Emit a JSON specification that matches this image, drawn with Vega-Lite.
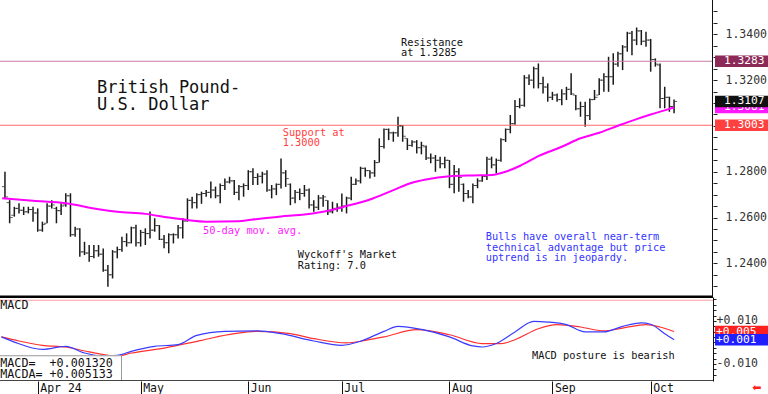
{
 "$schema": "https://vega.github.io/schema/vega-lite/v6.json",
 "padding": 0,
 "background": "white",
 "spacing": 0,
 "bounds": "flush",
 "config": {"view": {"stroke": null}, "axis": {"grid": false}, "text": {"font": "DejaVu Sans Mono"}},
 "datasets": {
  "one": [{"n": 1}],
  "ohlc": [
   {"i":0,"o":1.2735,"h":1.28,"l":1.2684,"c":1.269},
   {"i":1,"o":1.2665,"h":1.2676,"l":1.2575,"c":1.26},
   {"i":2,"o":1.261,"h":1.2647,"l":1.2604,"c":1.264},
   {"i":3,"o":1.264,"h":1.2662,"l":1.2618,"c":1.2632},
   {"i":4,"o":1.2632,"h":1.2647,"l":1.2611,"c":1.2625},
   {"i":5,"o":1.2625,"h":1.2647,"l":1.2618,"c":1.2635},
   {"i":6,"o":1.2635,"h":1.2647,"l":1.2582,"c":1.262},
   {"i":7,"o":1.262,"h":1.264,"l":1.2538,"c":1.2545},
   {"i":8,"o":1.2545,"h":1.2582,"l":1.2538,"c":1.257},
   {"i":9,"o":1.2575,"h":1.2662,"l":1.2575,"c":1.265},
   {"i":10,"o":1.265,"h":1.2676,"l":1.264,"c":1.2655},
   {"i":11,"o":1.264,"h":1.2647,"l":1.2575,"c":1.263},
   {"i":12,"o":1.263,"h":1.2662,"l":1.2611,"c":1.265},
   {"i":13,"o":1.2655,"h":1.2706,"l":1.2647,"c":1.2695},
   {"i":14,"o":1.2695,"h":1.2706,"l":1.2516,"c":1.2525},
   {"i":15,"o":1.2525,"h":1.256,"l":1.2516,"c":1.255},
   {"i":16,"o":1.255,"h":1.2553,"l":1.2429,"c":1.245},
   {"i":17,"o":1.245,"h":1.2494,"l":1.2436,"c":1.2445},
   {"i":18,"o":1.2445,"h":1.248,"l":1.2407,"c":1.243},
   {"i":19,"o":1.243,"h":1.248,"l":1.2422,"c":1.2455},
   {"i":20,"o":1.2455,"h":1.248,"l":1.2429,"c":1.244},
   {"i":21,"o":1.244,"h":1.2465,"l":1.2363,"c":1.237},
   {"i":22,"o":1.237,"h":1.2393,"l":1.2298,"c":1.235},
   {"i":23,"o":1.235,"h":1.2458,"l":1.2334,"c":1.245},
   {"i":24,"o":1.245,"h":1.2473,"l":1.2422,"c":1.246},
   {"i":25,"o":1.246,"h":1.2516,"l":1.2451,"c":1.2495},
   {"i":26,"o":1.2495,"h":1.2531,"l":1.2473,"c":1.249},
   {"i":27,"o":1.249,"h":1.256,"l":1.2487,"c":1.2555},
   {"i":28,"o":1.2555,"h":1.2568,"l":1.2473,"c":1.249},
   {"i":29,"o":1.249,"h":1.2546,"l":1.2473,"c":1.2535},
   {"i":30,"o":1.2535,"h":1.2553,"l":1.248,"c":1.253},
   {"i":31,"o":1.253,"h":1.2626,"l":1.2509,"c":1.2545},
   {"i":32,"o":1.2545,"h":1.2597,"l":1.2538,"c":1.2565},
   {"i":33,"o":1.2565,"h":1.2567,"l":1.2502,"c":1.2505},
   {"i":34,"o":1.2505,"h":1.2524,"l":1.2466,"c":1.249},
   {"i":35,"o":1.249,"h":1.2531,"l":1.2444,"c":1.2525},
   {"i":36,"o":1.2525,"h":1.2531,"l":1.2487,"c":1.2525},
   {"i":37,"o":1.2525,"h":1.2567,"l":1.2509,"c":1.2555},
   {"i":38,"o":1.2555,"h":1.2597,"l":1.2509,"c":1.2585},
   {"i":39,"o":1.2585,"h":1.2684,"l":1.2582,"c":1.2675},
   {"i":40,"o":1.2675,"h":1.2691,"l":1.264,"c":1.2665},
   {"i":41,"o":1.2665,"h":1.2706,"l":1.264,"c":1.27},
   {"i":42,"o":1.27,"h":1.2713,"l":1.266,"c":1.2705},
   {"i":43,"o":1.2705,"h":1.272,"l":1.2691,"c":1.271},
   {"i":44,"o":1.271,"h":1.2757,"l":1.2684,"c":1.272},
   {"i":45,"o":1.272,"h":1.2735,"l":1.2684,"c":1.2695},
   {"i":46,"o":1.2695,"h":1.2749,"l":1.2662,"c":1.274},
   {"i":47,"o":1.274,"h":1.2771,"l":1.272,"c":1.2755},
   {"i":48,"o":1.2755,"h":1.2778,"l":1.2749,"c":1.276},
   {"i":49,"o":1.276,"h":1.2764,"l":1.2698,"c":1.271},
   {"i":50,"o":1.271,"h":1.2742,"l":1.2676,"c":1.2735},
   {"i":51,"o":1.2735,"h":1.2749,"l":1.2691,"c":1.274},
   {"i":52,"o":1.274,"h":1.2807,"l":1.272,"c":1.28},
   {"i":53,"o":1.28,"h":1.2815,"l":1.2742,"c":1.2775},
   {"i":54,"o":1.2775,"h":1.2793,"l":1.2742,"c":1.278},
   {"i":55,"o":1.278,"h":1.28,"l":1.2749,"c":1.279},
   {"i":56,"o":1.279,"h":1.2807,"l":1.2713,"c":1.272},
   {"i":57,"o":1.272,"h":1.2742,"l":1.2684,"c":1.2725},
   {"i":58,"o":1.2725,"h":1.2749,"l":1.2698,"c":1.2745},
   {"i":59,"o":1.2745,"h":1.2858,"l":1.2727,"c":1.2795},
   {"i":60,"o":1.2795,"h":1.2807,"l":1.2734,"c":1.277},
   {"i":61,"o":1.2745,"h":1.2749,"l":1.2654,"c":1.2685},
   {"i":62,"o":1.2685,"h":1.272,"l":1.2662,"c":1.271},
   {"i":63,"o":1.271,"h":1.2727,"l":1.2676,"c":1.2705},
   {"i":64,"o":1.2705,"h":1.2742,"l":1.2691,"c":1.272},
   {"i":65,"o":1.272,"h":1.2727,"l":1.264,"c":1.2655},
   {"i":66,"o":1.2655,"h":1.2676,"l":1.2625,"c":1.2645},
   {"i":67,"o":1.2645,"h":1.2698,"l":1.2633,"c":1.2685},
   {"i":68,"o":1.2685,"h":1.2698,"l":1.2647,"c":1.269},
   {"i":69,"o":1.2675,"h":1.2676,"l":1.2611,"c":1.2625},
   {"i":70,"o":1.2625,"h":1.2669,"l":1.2618,"c":1.264},
   {"i":71,"o":1.264,"h":1.2662,"l":1.2625,"c":1.2645},
   {"i":72,"o":1.2645,"h":1.2705,"l":1.2625,"c":1.265},
   {"i":73,"o":1.265,"h":1.2691,"l":1.2618,"c":1.2685},
   {"i":74,"o":1.2685,"h":1.2778,"l":1.2676,"c":1.2745},
   {"i":75,"o":1.2745,"h":1.2771,"l":1.2742,"c":1.276},
   {"i":76,"o":1.276,"h":1.2822,"l":1.2749,"c":1.2815},
   {"i":77,"o":1.2815,"h":1.2818,"l":1.2778,"c":1.2805},
   {"i":78,"o":1.2805,"h":1.2807,"l":1.2771,"c":1.2795},
   {"i":79,"o":1.2795,"h":1.2851,"l":1.2778,"c":1.284},
   {"i":80,"o":1.284,"h":1.2946,"l":1.284,"c":1.291},
   {"i":81,"o":1.291,"h":1.2989,"l":1.2902,"c":1.2985},
   {"i":82,"o":1.2985,"h":1.2989,"l":1.2938,"c":1.297},
   {"i":83,"o":1.297,"h":1.2975,"l":1.2931,"c":1.297},
   {"i":84,"o":1.297,"h":1.304,"l":1.2953,"c":1.3},
   {"i":85,"o":1.3,"h":1.3004,"l":1.2931,"c":1.2955},
   {"i":86,"o":1.2946,"h":1.2946,"l":1.2895,"c":1.2915},
   {"i":87,"o":1.2915,"h":1.2938,"l":1.2909,"c":1.293},
   {"i":88,"o":1.293,"h":1.2938,"l":1.288,"c":1.2905},
   {"i":89,"o":1.2905,"h":1.2931,"l":1.2876,"c":1.2915},
   {"i":90,"o":1.2909,"h":1.2915,"l":1.2851,"c":1.286},
   {"i":91,"o":1.286,"h":1.288,"l":1.2837,"c":1.286},
   {"i":92,"o":1.286,"h":1.2873,"l":1.28,"c":1.285},
   {"i":93,"o":1.285,"h":1.2866,"l":1.2815,"c":1.2835},
   {"i":94,"o":1.2835,"h":1.2866,"l":1.2815,"c":1.285},
   {"i":95,"o":1.285,"h":1.2851,"l":1.2728,"c":1.2745},
   {"i":96,"o":1.2745,"h":1.2829,"l":1.2706,"c":1.28},
   {"i":97,"o":1.28,"h":1.2815,"l":1.2713,"c":1.2775},
   {"i":98,"o":1.2745,"h":1.2749,"l":1.2669,"c":1.2705},
   {"i":99,"o":1.2705,"h":1.272,"l":1.2684,"c":1.269},
   {"i":100,"o":1.269,"h":1.2749,"l":1.2662,"c":1.274},
   {"i":101,"o":1.274,"h":1.2771,"l":1.2728,"c":1.276},
   {"i":102,"o":1.276,"h":1.2786,"l":1.2756,"c":1.278},
   {"i":103,"o":1.278,"h":1.2866,"l":1.2764,"c":1.2855},
   {"i":104,"o":1.2855,"h":1.2866,"l":1.2815,"c":1.283},
   {"i":105,"o":1.283,"h":1.2858,"l":1.2793,"c":1.285},
   {"i":106,"o":1.285,"h":1.2946,"l":1.2844,"c":1.294},
   {"i":107,"o":1.294,"h":1.2989,"l":1.293,"c":1.2985},
   {"i":108,"o":1.2985,"h":1.3048,"l":1.2968,"c":1.301},
   {"i":109,"o":1.301,"h":1.3113,"l":1.3005,"c":1.3085},
   {"i":110,"o":1.3085,"h":1.3121,"l":1.3077,"c":1.309},
   {"i":111,"o":1.309,"h":1.3222,"l":1.3084,"c":1.321},
   {"i":112,"o":1.321,"h":1.3225,"l":1.3179,"c":1.32},
   {"i":113,"o":1.32,"h":1.3259,"l":1.3164,"c":1.325},
   {"i":114,"o":1.325,"h":1.3273,"l":1.3164,"c":1.3185},
   {"i":115,"o":1.3185,"h":1.3215,"l":1.3142,"c":1.317},
   {"i":116,"o":1.317,"h":1.3186,"l":1.3106,"c":1.3125},
   {"i":117,"o":1.3125,"h":1.3149,"l":1.3113,"c":1.3135},
   {"i":118,"o":1.3135,"h":1.3142,"l":1.3106,"c":1.3115},
   {"i":119,"o":1.3115,"h":1.316,"l":1.309,"c":1.314},
   {"i":120,"o":1.314,"h":1.3171,"l":1.3113,"c":1.316},
   {"i":121,"o":1.316,"h":1.323,"l":1.3135,"c":1.314},
   {"i":122,"o":1.3135,"h":1.3135,"l":1.3069,"c":1.3075},
   {"i":123,"o":1.3075,"h":1.3106,"l":1.304,"c":1.3085},
   {"i":124,"o":1.3085,"h":1.3106,"l":1.2997,"c":1.3045},
   {"i":125,"o":1.3045,"h":1.312,"l":1.3026,"c":1.3115},
   {"i":126,"o":1.3115,"h":1.3157,"l":1.3113,"c":1.3125},
   {"i":127,"o":1.3135,"h":1.3208,"l":1.3135,"c":1.32},
   {"i":128,"o":1.32,"h":1.323,"l":1.3149,"c":1.3215},
   {"i":129,"o":1.3215,"h":1.3302,"l":1.3149,"c":1.3215},
   {"i":130,"o":1.3215,"h":1.3317,"l":1.318,"c":1.327},
   {"i":131,"o":1.327,"h":1.3324,"l":1.3259,"c":1.3315},
   {"i":132,"o":1.3315,"h":1.3353,"l":1.3244,"c":1.3345},
   {"i":133,"o":1.3345,"h":1.3411,"l":1.3324,"c":1.3405},
   {"i":134,"o":1.3405,"h":1.3415,"l":1.3309,"c":1.3375},
   {"i":135,"o":1.3375,"h":1.343,"l":1.3353,"c":1.3415},
   {"i":136,"o":1.3415,"h":1.3419,"l":1.3353,"c":1.337},
   {"i":137,"o":1.337,"h":1.3411,"l":1.3346,"c":1.3375},
   {"i":138,"o":1.3375,"h":1.338,"l":1.3237,"c":1.329},
   {"i":139,"o":1.329,"h":1.3295,"l":1.3259,"c":1.327},
   {"i":140,"o":1.3266,"h":1.3273,"l":1.3077,"c":1.312},
   {"i":141,"o":1.312,"h":1.3171,"l":1.3077,"c":1.3125},
   {"i":142,"o":1.3125,"h":1.3128,"l":1.3062,"c":1.3085},
   {"i":143,"o":1.3085,"h":1.3115,"l":1.3055,"c":1.3107}
  ],
  "ma": [
   {"i":-0.6,"v":1.2684},{"i":6,"v":1.2673},{"i":13,"v":1.2662},{"i":20,"v":1.2636},{"i":24,"v":1.2625},
   {"i":30,"v":1.2616},{"i":35,"v":1.26},{"i":39,"v":1.2589},{"i":43,"v":1.2582},{"i":50,"v":1.2584},
   {"i":54,"v":1.2594},{"i":59,"v":1.2605},{"i":63,"v":1.2611},{"i":68,"v":1.2625},{"i":73,"v":1.265},
   {"i":78,"v":1.2679},{"i":83,"v":1.272},{"i":87,"v":1.2752},{"i":90,"v":1.2766},{"i":95,"v":1.278},
   {"i":100,"v":1.2784},{"i":104,"v":1.2786},{"i":107,"v":1.28},{"i":110,"v":1.2825},{"i":114,"v":1.2868},
   {"i":119,"v":1.2909},{"i":123,"v":1.2946},{"i":127,"v":1.297},{"i":131,"v":1.3001},{"i":135,"v":1.303},
   {"i":138,"v":1.305},{"i":141,"v":1.3068},{"i":143,"v":1.3081}
  ],
  "macd": [
   {"i":-0.76,"v":0.0026},{"i":2,"v":0.0002},{"i":8,"v":-0.0032},{"i":13,"v":-0.0018},{"i":17,"v":-0.0049},
   {"i":21,"v":-0.0063},{"i":24,"v":-0.006},{"i":27,"v":-0.0041},{"i":32,"v":-0.0018},{"i":37,"v":-0.001},
   {"i":41,"v":0.0033},{"i":47,"v":0.0052},{"i":54,"v":0.0054},{"i":59,"v":0.0041},{"i":66,"v":0.0007},
   {"i":72,"v":-0.0013},{"i":76,"v":0.0006},{"i":81,"v":0.0052},{"i":84,"v":0.0075},{"i":89,"v":0.0061},
   {"i":95,"v":0.0026},{"i":100,"v":-0.0016},{"i":102,"v":-0.0021},{"i":105,"v":-0.0005},{"i":109,"v":0.0049},
   {"i":113,"v":0.0098},{"i":116,"v":0.0095},{"i":120,"v":0.0083},{"i":124,"v":0.0049},{"i":128,"v":0.0049},
   {"i":132,"v":0.0075},{"i":136,"v":0.0091},{"i":138,"v":0.0085},{"i":141,"v":0.0041},{"i":143,"v":0.0013}
  ],
  "signal": [
   {"i":-0.76,"v":0.0026},{"i":3,"v":0.0007},{"i":8,"v":-0.0013},{"i":13,"v":-0.0021},{"i":18,"v":-0.0044},
   {"i":24,"v":-0.0063},{"i":27,"v":-0.0049},{"i":34,"v":-0.0026},{"i":42,"v":0.001},{"i":49,"v":0.0041},
   {"i":54,"v":0.0052},{"i":61,"v":0.0041},{"i":66,"v":0.0018},{"i":73,"v":-0.0002},{"i":77,"v":0.001},
   {"i":81,"v":0.0026},{"i":88,"v":0.006},{"i":95,"v":0.0036},{"i":102,"v":-0.0005},{"i":106,"v":-0.0005},
   {"i":109,"v":0.0013},{"i":114,"v":0.0064},{"i":118,"v":0.0083},{"i":123,"v":0.0072},{"i":128,"v":0.0054},
   {"i":132,"v":0.0067},{"i":137,"v":0.0083},{"i":140,"v":0.0072},{"i":143,"v":0.0051}
  ],
  "notes": [
   {"text":"Resistance","i":84.64,"p":1.3347,"kind":"note"},
   {"text":"at 1.3285","i":84.64,"p":1.33045,"kind":"note"},
   {"text":"Support at","i":59.36,"p":1.29556,"kind":"support"},
   {"text":"1.3000","i":59.36,"p":1.29122,"kind":"support"},
   {"text":"50-day mov. avg.","i":42.33,"p":1.25301,"kind":"ma"},
   {"text":"Wyckoff's Market","i":62.56,"p":1.24218,"kind":"note"},
   {"text":"Rating: 7.0","i":62.56,"p":1.23751,"kind":"note"},
   {"text":"Bulls have overall near-term","i":102.74,"p":1.25018,"kind":"comment"},
   {"text":"technical advantage but price","i":102.74,"p":1.24555,"kind":"comment"},
   {"text":"uptrend is in jeopardy.","i":102.74,"p":1.241,"kind":"comment"}
  ],
  "tags": [
   {"label":"1.3283","p":1.3283,"kind":"resistance"},
   {"label":"1.3003","p":1.3003,"kind":"support"},
   {"label":"1.3081","p":1.3081,"kind":"ma"},
   {"label":"1.3107","p":1.3107,"kind":"last"}
  ],
  "macdTags": [
   {"label":"+0.005","v":0.0051,"kind":"signal"},
   {"label":"+0.001","v":0.0013,"kind":"macd"}
  ]
 },
 "vconcat": [
  {
   "width": 713,
   "height": 297,
   "layer": [
    {"data": {"name": "ohlc"},
     "mark": {"type": "rule", "color": "#1a1a1a", "strokeWidth": 1.5},
     "encoding": {
      "x": {"field": "i", "type": "quantitative", "scale": {"domain": [-1.06, 151.32], "zero": false, "nice": false}, "axis": null},
      "y": {"field": "l", "type": "quantitative", "scale": {"domain": [1.2253, 1.355], "zero": false, "nice": false},
       "axis": {"orient": "right", "title": null, "grid": false, "tickCount": 100,
         "values": [1.23,1.235,1.24,1.245,1.25,1.255,1.26,1.265,1.27,1.275,1.28,1.285,1.29,1.295,1.3,1.305,1.31,1.315,1.32,1.325,1.33,1.335,1.34,1.345,1.35],
         "labelExpr": "abs(datum.value*50 - round(datum.value*50)) < 0.001 && abs(datum.value - 1.3) > 0.001 ? format(datum.value, '.4f') : ''",
         "tickSize": 4, "tickColor": "#222222", "domain": false, "labelPadding": 8,
         "labelFont": "DejaVu Sans Mono", "labelFontSize": 11.5, "labelColor": "#333333", "labelOverlap": false}},
      "y2": {"field": "h"}}},
    {"data": {"name": "one"},
     "mark": {"type": "rect", "color": "#ff6a6a"},
     "encoding": {
      "x": {"datum": -1.06, "type": "quantitative", "scale": {"domain": [-1.06, 151.32], "zero": false, "nice": false}, "axis": null},
      "x2": {"datum": 151.32},
      "y": {"datum": 1.30008, "type": "quantitative", "scale": {"domain": [1.2253, 1.355], "zero": false, "nice": false}},
      "y2": {"datum": 1.30052}}},
    {"data": {"name": "one"},
     "mark": {"type": "rect", "color": "#c97ba2"},
     "encoding": {
      "x": {"datum": -1.06, "type": "quantitative", "scale": {"domain": [-1.06, 151.32], "zero": false, "nice": false}, "axis": null},
      "x2": {"datum": 151.32},
      "y": {"datum": 1.32808, "type": "quantitative", "scale": {"domain": [1.2253, 1.355], "zero": false, "nice": false}},
      "y2": {"datum": 1.32852}}},
    {"data": {"name": "ohlc"},
     "mark": {"type": "tick", "orient": "horizontal", "color": "#1a1a1a", "size": 2.5, "thickness": 1, "xOffset": -1.8},
     "encoding": {
      "x": {"field": "i", "type": "quantitative", "scale": {"domain": [-1.06, 151.32], "zero": false, "nice": false}, "axis": null},
      "y": {"field": "o", "type": "quantitative", "scale": {"domain": [1.2253, 1.355], "zero": false, "nice": false}}}},
    {"data": {"name": "ohlc"},
     "mark": {"type": "tick", "orient": "horizontal", "color": "#1a1a1a", "size": 2.5, "thickness": 1, "xOffset": 1.8},
     "encoding": {
      "x": {"field": "i", "type": "quantitative", "scale": {"domain": [-1.06, 151.32], "zero": false, "nice": false}, "axis": null},
      "y": {"field": "c", "type": "quantitative", "scale": {"domain": [1.2253, 1.355], "zero": false, "nice": false}}}},
    {"data": {"name": "ma"},
     "mark": {"type": "line", "color": "#ff00ff", "strokeWidth": 2, "strokeJoin": "round", "interpolate": "monotone"},
     "encoding": {
      "x": {"field": "i", "type": "quantitative", "scale": {"domain": [-1.06, 151.32], "zero": false, "nice": false}, "axis": null},
      "y": {"field": "v", "type": "quantitative", "scale": {"domain": [1.2253, 1.355], "zero": false, "nice": false}}}},
    {"data": {"name": "one"},
     "mark": {"type": "rect", "color": "#000000"},
     "encoding": {
      "x": {"datum": -1.06, "type": "quantitative", "scale": {"domain": [-1.06, 151.32], "zero": false, "nice": false}, "axis": null},
      "x2": {"datum": 151.32},
      "y": {"datum": 1.22486, "type": "quantitative", "scale": {"domain": [1.2253, 1.355], "zero": false, "nice": false}},
      "y2": {"datum": 1.22595}}},
    {"data": {"name": "one"},
     "mark": {"type": "rect", "color": "#111111"},
     "encoding": {
      "x": {"datum": 151.106, "type": "quantitative", "scale": {"domain": [-1.06, 151.32], "zero": false, "nice": false}, "axis": null},
      "x2": {"datum": 151.32},
      "y": {"datum": 1.355, "type": "quantitative", "scale": {"domain": [1.2253, 1.355], "zero": false, "nice": false}},
      "y2": {"datum": 1.2253}}},
    {"data": {"values": [{"text": "British Pound-", "i": 19.67, "p": 1.3144}, {"text": "U.S. Dollar", "i": 19.67, "p": 1.30694}]},
     "mark": {"type": "text", "align": "left", "baseline": "alphabetic", "font": "DejaVu Sans Mono", "fontSize": 17, "color": "#111111"},
     "encoding": {
      "x": {"field": "i", "type": "quantitative", "scale": {"domain": [-1.06, 151.32], "zero": false, "nice": false}, "axis": null},
      "y": {"field": "p", "type": "quantitative", "scale": {"domain": [1.2253, 1.355], "zero": false, "nice": false}},
      "text": {"field": "text"}}},
    {"data": {"name": "notes"},
     "mark": {"type": "text", "align": "left", "baseline": "alphabetic", "font": "DejaVu Sans Mono", "fontSize": 10.3},
     "encoding": {
      "x": {"field": "i", "type": "quantitative", "scale": {"domain": [-1.06, 151.32], "zero": false, "nice": false}, "axis": null},
      "y": {"field": "p", "type": "quantitative", "scale": {"domain": [1.2253, 1.355], "zero": false, "nice": false}},
      "text": {"field": "text"},
      "color": {"field": "kind", "type": "nominal", "legend": null,
        "scale": {"domain": ["note", "support", "ma", "comment", "resistance", "last"], "range": ["#111111", "#ff4040", "#ff19ff", "#3535ff", "#8c2a58", "#111111"]}}}},
    {"data": {"name": "tags"},
     "transform": [{"filter": "datum.kind != 'last'"}],
     "mark": {"type": "tick", "orient": "horizontal", "size": 53, "thickness": 11.5, "opacity": 1},
     "encoding": {
      "x": {"datum": 157.41, "type": "quantitative", "scale": {"domain": [-1.06, 151.32], "zero": false, "nice": false}, "axis": null},
      "y": {"field": "p", "type": "quantitative", "scale": {"domain": [1.2253, 1.355], "zero": false, "nice": false}},
      "color": {"field": "kind", "type": "nominal", "legend": null,
        "scale": {"domain": ["note", "support", "ma", "comment", "resistance", "last"], "range": ["#111111", "#ff2a2a", "#ff19ff", "#3535ff", "#8c2a58", "#111111"]}}}},
    {"data": {"name": "tags"},
     "transform": [{"filter": "datum.kind != 'last'"}],
     "mark": {"type": "text", "align": "left", "baseline": "middle", "font": "DejaVu Sans Mono", "fontSize": 11.2, "color": "white"},
     "encoding": {
      "x": {"datum": 153.68, "type": "quantitative", "scale": {"domain": [-1.06, 151.32], "zero": false, "nice": false}, "axis": null},
      "y": {"field": "p", "type": "quantitative", "scale": {"domain": [1.2253, 1.355], "zero": false, "nice": false}},
      "text": {"field": "label"}}},
    {"data": {"name": "tags"},
     "transform": [{"filter": "datum.kind == 'last'"}],
     "mark": {"type": "tick", "orient": "horizontal", "size": 53, "thickness": 11.5, "color": "#111111", "opacity": 1},
     "encoding": {
      "x": {"datum": 157.41, "type": "quantitative", "scale": {"domain": [-1.06, 151.32], "zero": false, "nice": false}, "axis": null},
      "y": {"field": "p", "type": "quantitative", "scale": {"domain": [1.2253, 1.355], "zero": false, "nice": false}}}},
    {"data": {"name": "tags"},
     "transform": [{"filter": "datum.kind == 'last'"}],
     "mark": {"type": "text", "align": "left", "baseline": "middle", "font": "DejaVu Sans Mono", "fontSize": 11.2, "color": "white"},
     "encoding": {
      "x": {"datum": 153.68, "type": "quantitative", "scale": {"domain": [-1.06, 151.32], "zero": false, "nice": false}, "axis": null},
      "y": {"field": "p", "type": "quantitative", "scale": {"domain": [1.2253, 1.355], "zero": false, "nice": false}},
      "text": {"field": "label"}}}
   ]
  },
  {
   "width": 713,
   "height": 84,
   "layer": [
    {"data": {"name": "signal"},
     "mark": {"type": "line", "color": "#ff3030", "strokeWidth": 1.2, "strokeJoin": "round", "interpolate": "monotone"},
     "encoding": {
      "x": {"field": "i", "type": "quantitative", "scale": {"domain": [-1.06, 151.32], "zero": false, "nice": false},
        "axis": {"orient": "bottom", "title": null, "grid": false, "values": [7, 29, 52, 72, 95, 117, 138], "tickCount": 100,
          "labelExpr": "datum.value == 7 ? 'Apr 24' : datum.value == 29 ? 'May' : datum.value == 52 ? 'Jun' : datum.value == 72 ? 'Jul' : datum.value == 95 ? 'Aug' : datum.value == 117 ? 'Sep' : 'Oct'",
          "labelAlign": "left", "labelBaseline": "alphabetic", "labelPadding": -3, "labelOffset": 2, "tickSize": 13,
          "tickColor": "#111111", "domain": false, "labelFont": "DejaVu Sans Mono", "labelFontSize": 11.5, "labelColor": "#111111",
          "labelFlush": false, "labelOverlap": false}},
      "y": {"field": "v", "type": "quantitative", "scale": {"domain": [-0.01791, 0.02116], "zero": false, "nice": false},
       "axis": {"orient": "right", "title": null, "grid": false, "tickCount": 100,
         "values": [-0.015,-0.0125,-0.01,-0.0075,-0.005,-0.0025,0,0.0025,0.005,0.0075,0.01,0.0125,0.015,0.0175,0.02],
         "labelExpr": "abs(abs(datum.value) - 0.01) < 0.00001 ? (datum.value > 0 ? '+' : '-') + format(abs(datum.value), '.3f') : ''",
         "tickSize": 3, "tickColor": "#222222", "domain": true, "domainColor": "#111111", "labelPadding": 0,
         "labelFont": "DejaVu Sans Mono", "labelFontSize": 11.5, "labelColor": "#333333", "labelOverlap": false}}}},
    {"data": {"name": "one"},
     "mark": {"type": "rect", "color": "#ffa0a0"},
     "encoding": {
      "x": {"datum": -1.06, "type": "quantitative", "scale": {"domain": [-1.06, 151.32], "zero": false, "nice": false}},
      "x2": {"datum": 151.32},
      "y": {"datum": 0.0194, "type": "quantitative", "scale": {"domain": [-0.01791, 0.02116], "zero": false, "nice": false}},
      "y2": {"datum": 0.01986}}},
    {"data": {"name": "macd"},
     "mark": {"type": "line", "color": "#3b3bff", "strokeWidth": 1.2, "strokeJoin": "round", "interpolate": "monotone"},
     "encoding": {
      "x": {"field": "i", "type": "quantitative", "scale": {"domain": [-1.06, 151.32], "zero": false, "nice": false}},
      "y": {"field": "v", "type": "quantitative", "scale": {"domain": [-0.01791, 0.02116], "zero": false, "nice": false}}}},
    {"data": {"name": "one"},
     "mark": {"type": "rect", "color": "white"},
     "encoding": {
      "x": {"datum": -1.06, "type": "quantitative", "scale": {"domain": [-1.06, 151.32], "zero": false, "nice": false}},
      "x2": {"datum": 25.01},
      "y": {"datum": -0.00595, "type": "quantitative", "scale": {"domain": [-0.01791, 0.02116], "zero": false, "nice": false}},
      "y2": {"datum": -0.01791}}},
    {"data": {"name": "one"},
     "mark": {"type": "rect", "color": "#999999"},
     "encoding": {
      "x": {"datum": -1.06, "type": "quantitative", "scale": {"domain": [-1.06, 151.32], "zero": false, "nice": false}},
      "x2": {"datum": 25.01},
      "y": {"datum": -0.00595, "type": "quantitative", "scale": {"domain": [-0.01791, 0.02116], "zero": false, "nice": false}},
      "y2": {"datum": -0.00642}}},
    {"data": {"name": "one"},
     "mark": {"type": "rect", "color": "#999999"},
     "encoding": {
      "x": {"datum": 24.8, "type": "quantitative", "scale": {"domain": [-1.06, 151.32], "zero": false, "nice": false}},
      "x2": {"datum": 25.01},
      "y": {"datum": -0.00595, "type": "quantitative", "scale": {"domain": [-0.01791, 0.02116], "zero": false, "nice": false}},
      "y2": {"datum": -0.01791}}},
    {"data": {"name": "one"},
     "mark": {"type": "rect", "color": "#444444"},
     "encoding": {
      "x": {"datum": -1.06, "type": "quantitative", "scale": {"domain": [-1.06, 151.32], "zero": false, "nice": false}},
      "x2": {"datum": 151.32},
      "y": {"datum": -0.01791, "type": "quantitative", "scale": {"domain": [-0.01791, 0.02116], "zero": false, "nice": false}},
      "y2": {"datum": -0.01744}}},
    {"data": {"values": [
       {"text": "MACD=\u00a0\u00a0+0.001320", "i": -1.0, "v": -0.0094},
       {"text": "MACDA=\u00a0+0.005133", "i": -1.0, "v": -0.01479},
       {"text": "MACD", "i": -1.0, "v": 0.01744}]},
     "mark": {"type": "text", "align": "left", "baseline": "middle", "font": "DejaVu Sans Mono", "fontSize": 11.7, "color": "#111111"},
     "encoding": {
      "x": {"field": "i", "type": "quantitative", "scale": {"domain": [-1.06, 151.32], "zero": false, "nice": false}},
      "y": {"field": "v", "type": "quantitative", "scale": {"domain": [-0.01791, 0.02116], "zero": false, "nice": false}},
      "text": {"field": "text"}}},
    {"data": {"values": [{"text": "MACD posture is bearish", "i": 112.64, "v": -0.00605}]},
     "mark": {"type": "text", "align": "left", "baseline": "middle", "font": "DejaVu Sans Mono", "fontSize": 10.3, "color": "#111111"},
     "encoding": {
      "x": {"field": "i", "type": "quantitative", "scale": {"domain": [-1.06, 151.32], "zero": false, "nice": false}},
      "y": {"field": "v", "type": "quantitative", "scale": {"domain": [-0.01791, 0.02116], "zero": false, "nice": false}},
      "text": {"field": "text"}}},
    {"data": {"name": "macdTags"},
     "transform": [{"filter": "datum.kind == 'signal'"}],
     "mark": {"type": "tick", "orient": "horizontal", "size": 53, "thickness": 11.5, "color": "#ff2020", "opacity": 1},
     "encoding": {
      "x": {"datum": 157.41, "type": "quantitative", "scale": {"domain": [-1.06, 151.32], "zero": false, "nice": false}},
      "y": {"field": "v", "type": "quantitative", "scale": {"domain": [-0.01791, 0.02116], "zero": false, "nice": false}}}},
    {"data": {"name": "macdTags"},
     "transform": [{"filter": "datum.kind == 'signal'"}],
     "mark": {"type": "text", "align": "left", "baseline": "middle", "font": "DejaVu Sans Mono", "fontSize": 11.2, "color": "white"},
     "encoding": {
      "x": {"datum": 151.96, "type": "quantitative", "scale": {"domain": [-1.06, 151.32], "zero": false, "nice": false}},
      "y": {"field": "v", "type": "quantitative", "scale": {"domain": [-0.01791, 0.02116], "zero": false, "nice": false}},
      "text": {"field": "label"}}},
    {"data": {"name": "macdTags"},
     "transform": [{"filter": "datum.kind == 'macd'"}],
     "mark": {"type": "tick", "orient": "horizontal", "size": 53, "thickness": 11.5, "color": "#1f1fff", "opacity": 1},
     "encoding": {
      "x": {"datum": 157.41, "type": "quantitative", "scale": {"domain": [-1.06, 151.32], "zero": false, "nice": false}},
      "y": {"field": "v", "type": "quantitative", "scale": {"domain": [-0.01791, 0.02116], "zero": false, "nice": false}}}},
    {"data": {"name": "macdTags"},
     "transform": [{"filter": "datum.kind == 'macd'"}],
     "mark": {"type": "text", "align": "left", "baseline": "middle", "font": "DejaVu Sans Mono", "fontSize": 11.2, "color": "white"},
     "encoding": {
      "x": {"datum": 151.96, "type": "quantitative", "scale": {"domain": [-1.06, 151.32], "zero": false, "nice": false}},
      "y": {"field": "v", "type": "quantitative", "scale": {"domain": [-0.01791, 0.02116], "zero": false, "nice": false}},
      "text": {"field": "label"}}},
    {"data": {"values": [{"text": "\u2b05", "i": 160.7, "v": -0.02116}]},
     "mark": {"type": "text", "align": "center", "baseline": "middle", "font": "DejaVu Sans", "fontSize": 11, "color": "#ff2020"},
     "encoding": {
      "x": {"field": "i", "type": "quantitative", "scale": {"domain": [-1.06, 151.32], "zero": false, "nice": false}},
      "y": {"field": "v", "type": "quantitative", "scale": {"domain": [-0.01791, 0.02116], "zero": false, "nice": false}},
      "text": {"field": "text"}}}
   ]
  }
 ]
}
